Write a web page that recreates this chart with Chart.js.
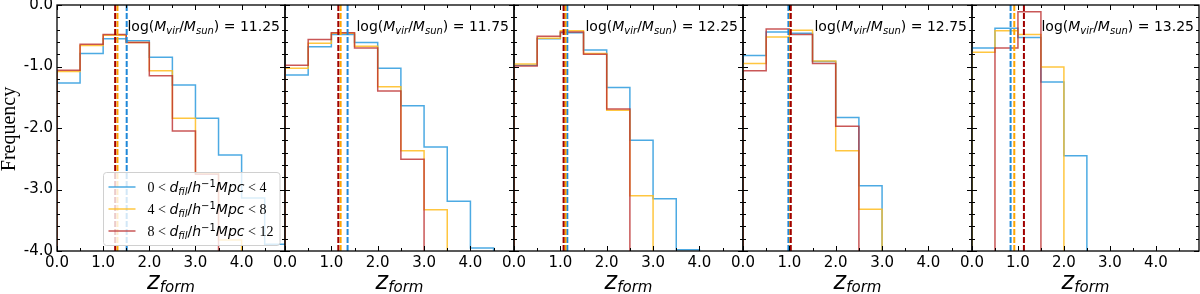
<!DOCTYPE html>
<html>
<head>
<meta charset="utf-8">
<script src="https://cdn.jsdelivr.net/npm/chart.js@4.4.1/dist/chart.umd.min.js"></script>
<style>
  html, body { margin: 0; padding: 0; background: #fff; }
  #wrap { position: relative; width: 1200px; height: 294px; overflow: hidden; background: #fff; }
  #wrap canvas { position: absolute; top: 0; }
</style>
</head>
<body>
<div id="wrap"></div>
<script>
// ---- data ----
const binEdges = [0, 0.5, 1.0, 1.5, 2.0, 2.5, 3.0, 3.5, 4.0, 4.5, 5.0];
const massLabels = ['11.25', '11.75', '12.25', '12.75', '13.25'];
const distLow = [0, 4, 8];
const distHigh = [4, 8, 12];

// log frequency per bin, null = empty bin
const freqNear = [
    [-1.27, -0.79, -0.55, -0.58, -0.85, -1.30, -1.84, -2.44, -3.14, -3.89],
    [-1.14, -0.68, -0.48, -0.61, -1.03, -1.64, -2.31, -3.19, -3.95, null],
    [-0.98, -0.55, -0.45, -0.73, -1.34, -2.20, -3.15, -3.98, null, null],
    [-0.82, -0.44, -0.46, -0.92, -1.83, -2.94, null, null, null, null],
    [-0.70, -0.38, -0.53, -1.25, -2.45, null, null, null, null, null]
];
const freqMid = [
    [-1.08, -0.66, -0.49, -0.61, -1.07, -1.84, -2.73, -3.82, null, null],
    [-1.03, -0.62, -0.46, -0.67, -1.33, -2.37, -3.33, null, null, null],
    [-0.96, -0.54, -0.42, -0.79, -1.71, -3.10, null, null, null, null],
    [-0.95, -0.52, -0.41, -0.91, -2.37, -3.32, null, null, null, null],
    [-0.77, -0.42, -0.48, -1.01, null, null, null, null, null, null]
];
const freqFar = [
    [-1.06, -0.64, -0.48, -0.61, -1.15, -2.05, -2.75, null, null, null],
    [-0.98, -0.56, -0.45, -0.70, -1.40, -2.51, null, null, null, null],
    [-0.99, -0.51, -0.44, -0.80, -1.69, null, null, null, null, null],
    [-1.07, -0.39, -0.48, -0.95, -1.97, null, null, null, null, null],
    [null, -0.70, -0.11, null, null, null, null, null, null, null]
];

// median z_form (dashed lines)
const medianNear = [1.51, 1.35, 1.15, 0.98, 0.84];
const medianMid = [1.31, 1.20, 1.11, 1.02, 0.92];
const medianFar = [1.26, 1.15, 1.07, 1.03, 1.13];

// ticks
const xMajor = [0, 1, 2, 3, 4];
const xMinor = [0.5, 1.5, 2.5, 3.5, 4.5];
const yMajor = [-4, -3, -2, -1, 0];
const yMinor = [-3.8, -3.6, -3.4, -3.2, -2.8, -2.6, -2.4, -2.2, -1.8, -1.6, -1.4, -1.2, -0.8, -0.6, -0.4, -0.2];

// ---- layout / style ----
const panelLeft = [57, 285, 514, 743, 972];
const panelRight = [285, 514, 743, 972, 1199];
const X_MAX = 4.94, Y_MIN = -4, Y_MAX = 0;
const histColors = ['rgba(45,155,222,0.85)', 'rgba(255,188,30,0.85)', 'rgba(188,45,45,0.8)'];
const dashColors = ['#1f88d8', '#ffa500', '#a00000'];
const SANS = '"DejaVu Sans"';
const SERIF = '"Liberation Serif"';

function histPoints(vals) {
    const low = Y_MIN - 2;
    const pts = [{ x: binEdges[0], y: low }];
    vals.forEach((v, i) => pts.push({ x: binEdges[i + 1], y: v === null ? low : v }));
    pts.push({ x: binEdges[vals.length], y: low });
    return pts;
}

function drawRich(ctx, x, y, segs, align) {
    ctx.save();
    ctx.textAlign = 'left';
    ctx.textBaseline = 'alphabetic';
    ctx.fillStyle = '#000';
    let w = 0;
    segs.forEach(s => { ctx.font = s.font; s.w = ctx.measureText(s.text).width; w += s.w; });
    let cx = align === 'right' ? x - w : (align === 'center' ? x - w / 2 : x);
    segs.forEach(s => { ctx.font = s.font; ctx.fillText(s.text, cx, y + (s.dy || 0)); cx += s.w; });
    ctx.restore();
}

function titleSegs(m) {
    return [
        { text: 'log(', font: `14px ${SANS}` },
        { text: 'M', font: `italic 14px ${SANS}` },
        { text: 'vir', font: `italic 10px ${SANS}`, dy: 3 },
        { text: '/', font: `14px ${SANS}` },
        { text: 'M', font: `italic 14px ${SANS}` },
        { text: 'sun', font: `italic 10px ${SANS}`, dy: 3 },
        { text: ')', font: `14px ${SANS}` },
        { text: ' = ' + m, font: `14px ${SANS}` }
    ];
}

function legendSegs(lo, hi) {
    return [
        { text: lo + ' < ', font: `14px ${SERIF}` },
        { text: 'd', font: `italic 14px ${SANS}` },
        { text: 'fil', font: `italic 10px ${SANS}`, dy: 3 },
        { text: '/', font: `14px ${SANS}` },
        { text: 'h', font: `italic 14px ${SANS}` },
        { text: '\u22121', font: `10px ${SANS}`, dy: -5 },
        { text: 'Mpc', font: `italic 14px ${SANS}` },
        { text: ' < ' + hi, font: `14px ${SERIF}` }
    ];
}

function drawLegend(ctx, a) {
    const bx = a.left + 46.5, by = a.bottom - 78.5, bw = a.right - 5 - bx, bh = 73;
    ctx.save();
    ctx.beginPath();
    ctx.roundRect(bx, by, bw, bh, 3);
    ctx.fillStyle = 'rgba(255,255,255,0.8)';
    ctx.fill();
    ctx.strokeStyle = '#d0d0d0';
    ctx.lineWidth = 1;
    ctx.stroke();
    distLow.forEach((lo, k) => {
        const yy = by + 14.5 + k * 22;
        ctx.beginPath();
        ctx.moveTo(bx + 5, yy);
        ctx.lineTo(bx + 32, yy);
        ctx.strokeStyle = histColors[k];
        ctx.lineWidth = 1.5;
        ctx.stroke();
        drawRich(ctx, bx + 44, yy + 5, legendSegs(lo, distHigh[k]), 'left');
    });
    ctx.restore();
}

const framePlugin = {
    id: 'frameTicks',
    afterDatasetsDraw(chart, args, opts) {
        const { ctx, chartArea: a, scales: { x, y } } = chart;
        if (opts.legend) drawLegend(ctx, a);
        ctx.save();
        ctx.strokeStyle = '#000';
        ctx.lineWidth = 1;
        const seg = (x1, y1, x2, y2) => { ctx.beginPath(); ctx.moveTo(x1, y1); ctx.lineTo(x2, y2); ctx.stroke(); };
        xMajor.forEach(v => { const p = Math.round(x.getPixelForValue(v)) + 0.5; seg(p, a.bottom, p, a.bottom - 5); seg(p, a.top, p, a.top + 5); });
        xMinor.forEach(v => { const p = Math.round(x.getPixelForValue(v)) + 0.5; seg(p, a.bottom, p, a.bottom - 3); seg(p, a.top, p, a.top + 3); });
        yMajor.forEach(v => { const p = Math.round(y.getPixelForValue(v)) + 0.5; seg(a.left, p, a.left + 5, p); seg(a.right, p, a.right - 5, p); });
        yMinor.forEach(v => { const p = Math.round(y.getPixelForValue(v)) + 0.5; seg(a.left, p, a.left + 3, p); seg(a.right, p, a.right - 3, p); });
        ctx.lineWidth = 1.3;
        ctx.strokeRect(a.left, a.top, a.right - a.left, a.bottom - a.top);
        ctx.restore();

        drawRich(ctx, a.right - 5, a.top + 26, titleSegs(opts.mass), 'right');
        drawRich(ctx, (a.left + a.right) / 2, 289, [
            { text: 'z', font: `italic 24px ${SANS}` },
            { text: 'form', font: `italic 15px ${SANS}`, dy: 3 }
        ], 'center');

        if (opts.ylabel) {
            ctx.save();
            ctx.translate(15, 129);
            ctx.rotate(-Math.PI / 2);
            ctx.font = `20px ${SERIF}`;
            ctx.textAlign = 'center';
            ctx.textBaseline = 'alphabetic';
            ctx.fillStyle = '#000';
            ctx.fillText('Frequency', 0, 0);
            ctx.restore();
        }
    }
};

function makePanel(i) {
    const left = i === 0 ? 0 : panelLeft[i] - 25;
    const right = i === 4 ? 1200 : panelRight[i] + 15;
    const canvas = document.createElement('canvas');
    canvas.width = right - left;
    canvas.height = 294;
    canvas.style.left = left + 'px';
    canvas.style.width = (right - left) + 'px';
    canvas.style.height = '294px';
    document.getElementById('wrap').appendChild(canvas);

    const medians = [medianNear[i], medianMid[i], medianFar[i]];
    const hists = [freqNear[i], freqMid[i], freqFar[i]];

    // dashed medians first so they are drawn on top
    const dashSets = [2, 1, 0].map(k => ({
        data: [{ x: medians[k], y: Y_MIN }, { x: medians[k], y: Y_MAX }],
        borderColor: dashColors[k],
        borderWidth: 2,
        borderDash: [6, 2],
        pointRadius: 0
    }));
    const histSets = [2, 1, 0].map(k => ({
        data: histPoints(hists[k]),
        borderColor: histColors[k],
        borderWidth: 1.5,
        stepped: 'after',
        pointRadius: 0,
        fill: false
    }));

    new Chart(canvas.getContext('2d'), {
        type: 'line',
        data: { datasets: dashSets.concat(histSets) },
        options: {
            responsive: false,
            animation: false,
            devicePixelRatio: 1,
            layout: {
                padding: { left: i === 0 ? 0 : panelLeft[i] - left, right: right - panelRight[i], top: 5, bottom: 0 }
            },
            plugins: {
                legend: { display: false },
                tooltip: { enabled: false },
                frameTicks: { legend: i === 0, ylabel: i === 0, mass: massLabels[i] }
            },
            scales: {
                x: {
                    type: 'linear',
                    min: 0,
                    max: X_MAX,
                    afterBuildTicks: s => { s.ticks = xMajor.map(v => ({ value: v })); },
                    afterFit: s => { s.height = 43; s.paddingLeft = 0; s.paddingRight = 0; },
                    grid: { display: false, drawTicks: false },
                    border: { display: false },
                    ticks: {
                        padding: 3,
                        color: '#000',
                        maxRotation: 0,
                        autoSkip: false,
                        font: { family: 'DejaVu Sans', size: 15 },
                        callback: v => Number(v).toFixed(1)
                    }
                },
                y: {
                    type: 'linear',
                    min: Y_MIN,
                    max: Y_MAX,
                    display: i === 0,
                    afterBuildTicks: s => { s.ticks = yMajor.map(v => ({ value: v })); },
                    afterFit: s => { if (s.options.display) s.width = 57; s.paddingTop = 0; s.paddingBottom = 0; },
                    grid: { display: false, drawTicks: false },
                    border: { display: false },
                    ticks: {
                        padding: 4,
                        color: '#000',
                        font: { family: 'DejaVu Sans', size: 15 },
                        callback: v => Number(v).toFixed(1)
                    }
                }
            }
        },
        plugins: [framePlugin]
    });
}

for (let i = 0; i < 5; i++) makePanel(i);
</script>
</body>
</html>
